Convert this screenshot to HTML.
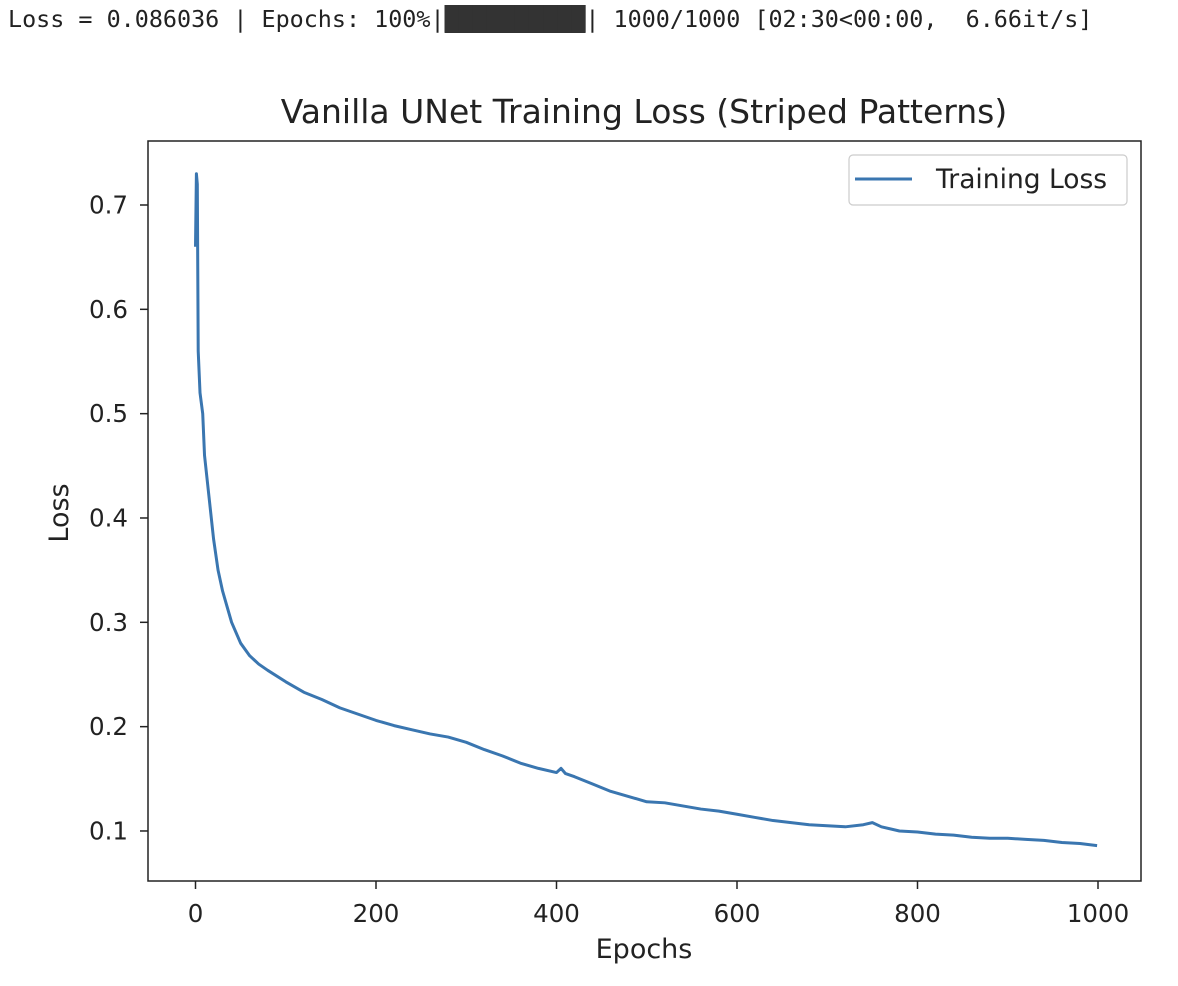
<!DOCTYPE html>
<html><head><meta charset="utf-8"><style>
body{margin:0;background:#fff;width:1178px;height:986px;overflow:hidden;font-family:"DejaVu Sans","Liberation Sans",sans-serif}
#hdr{position:absolute;left:8px;top:5px;font-family:"DejaVu Sans Mono","Liberation Mono",monospace;font-size:23.4px;color:#222;white-space:pre}
</style></head><body>
<div id="hdr">Loss = 0.086036 | Epochs: 100%|<span style="background:#333;color:#333">██████████</span>| 1000/1000 [02:30&lt;00:00,  6.66it/s]</div>
<svg id="chart" width="1178" height="986" style="position:absolute;left:0;top:0"></svg>
<script>
const epochs=[0,1,2,3,5,8,10,15,20,25,30,35,40,50,60,70,80,100,120,140,160,180,200,220,240,260,280,300,320,340,360,380,400,405,410,420,440,460,480,500,520,540,560,580,600,620,640,660,680,700,720,740,750,760,780,800,820,840,860,880,900,920,940,960,980,999];
const losses=[0.66,0.73,0.72,0.56,0.52,0.50,0.46,0.42,0.38,0.35,0.33,0.315,0.30,0.28,0.268,0.26,0.254,0.243,0.233,0.226,0.218,0.212,0.206,0.201,0.197,0.193,0.19,0.185,0.178,0.172,0.165,0.16,0.156,0.16,0.155,0.152,0.145,0.138,0.133,0.128,0.127,0.124,0.121,0.119,0.116,0.113,0.11,0.108,0.106,0.105,0.104,0.106,0.108,0.104,0.1,0.099,0.097,0.096,0.094,0.093,0.093,0.092,0.091,0.089,0.088,0.086];
const xTicks=[0,200,400,600,800,1000];
const yTicks=[0.1,0.2,0.3,0.4,0.5,0.6,0.7];
const svg=document.getElementById('chart');const NS='http://www.w3.org/2000/svg';
const L=148,R=1141,T=141,B=881;
const xs=v=>195.5+v*0.9025;
const ys=v=>205+(0.7-v)/0.1*104.33;
function mk(t,a,p){const e=document.createElementNS(NS,t);for(const k in a)e.setAttribute(k,a[k]);(p||svg).appendChild(e);return e;}
const title=mk('text',{x:644,y:123,'text-anchor':'middle','font-size':33,fill:'#222'});title.textContent='Vanilla UNet Training Loss (Striped Patterns)';


xTicks.forEach(v=>{const x=xs(v);
const t=mk('line',{x1:x,x2:x,y1:B,y2:B+8,stroke:'#222','stroke-width':1.5});


const l=mk('text',{x:x,y:922,'text-anchor':'middle','font-size':24.5,fill:'#222'});l.textContent=v;

});
yTicks.forEach(v=>{const y=ys(v);
const t=mk('line',{x1:L-8,x2:L,y1:y,y2:y,stroke:'#222','stroke-width':1.5});


const l=mk('text',{x:L-20,y:y+8.5,'text-anchor':'end','font-size':24.5,fill:'#222'});l.textContent=v.toFixed(1);

});
const xt=mk('text',{x:644,y:958,'text-anchor':'middle','font-size':27,fill:'#222'});xt.textContent='Epochs';


const yt=mk('text',{x:68,y:513,'text-anchor':'middle','font-size':27,fill:'#222',transform:'rotate(-90 68 513)'});yt.textContent='Loss';


const line=mk('polyline',{points:epochs.map((e,i)=>xs(e)+','+ys(losses[i])).join(' '),fill:'none',stroke:'#3a76b0','stroke-width':3,'stroke-linejoin':'round'});


const fr=mk('rect',{x:L,y:T,width:R-L,height:B-T,fill:'none',stroke:'#222','stroke-width':1.5});


const lg=mk('g',{});


mk('rect',{x:849,y:155,width:278,height:50,rx:4,fill:'#fff',stroke:'#ccc','stroke-width':1.2},lg);
mk('line',{x1:855,x2:912,y1:179,y2:179,stroke:'#3a76b0','stroke-width':3},lg);
const lt=mk('text',{x:936,y:188,'font-size':26.5,fill:'#222'},lg);lt.textContent='Training Loss';


</script>
</body></html>
